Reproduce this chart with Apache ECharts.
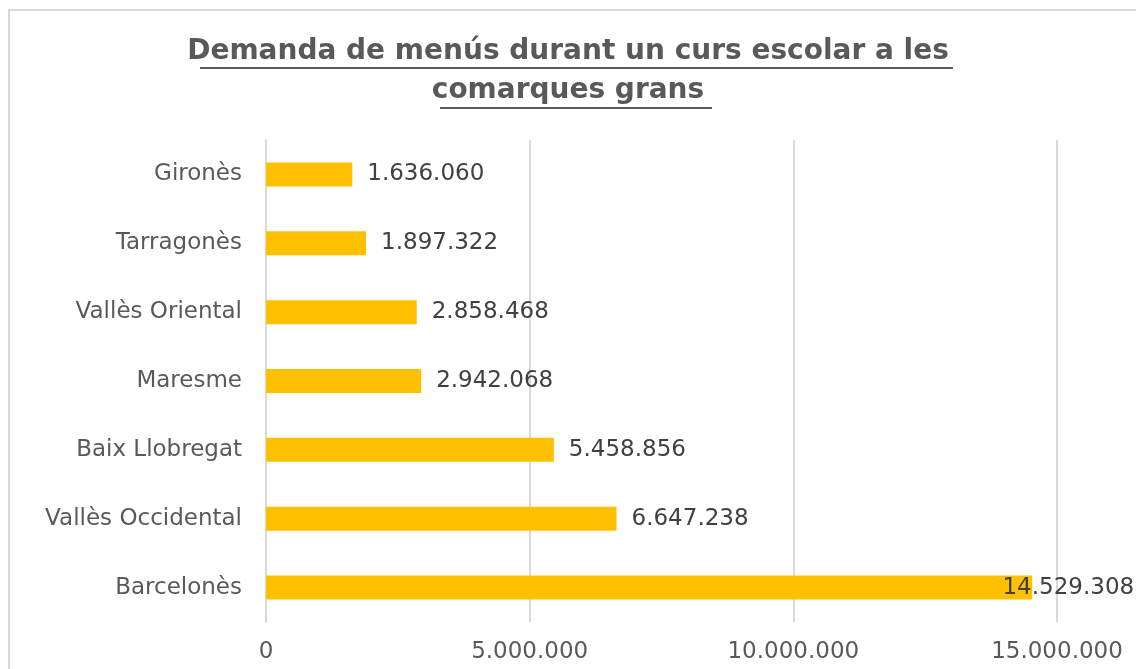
<!DOCTYPE html>
<html>
<head>
<meta charset="utf-8">
<script src="https://cdn.jsdelivr.net/npm/echarts@6/dist/echarts.min.js"></script>
<style>
html,body{margin:0;padding:0;background:#fff;}
#chart{width:1136px;height:669px;}
</style>
</head>
<body>
<div id="chart"></div>
<script>
var categories = ['Gironès', 'Tarragonès', 'Vallès Oriental', 'Maresme', 'Baix Llobregat', 'Vallès Occidental', 'Barcelonès'];
var values = [1636060, 1897322, 2858468, 2942068, 5458856, 6647238, 14529308];
var axisTicks = [0, 5000000, 10000000, 15000000];
var titleLines = ['Demanda de menús durant un curs escolar a les', 'comarques grans'];

function fmt(v) {
  return String(v).replace(/\B(?=(\d{3})+(?!\d))/g, '.');
}

var FONT = '"DejaVu Sans", sans-serif';
var chart = echarts.init(document.getElementById('chart'), null, {renderer: 'canvas'});

var barData = values.map(function (v, i) {
  if (v > 13000000) {
    return {value: v, label: {position: 'insideRight', offset: [117, 0]}};
  }
  return v;
});

chart.setOption({
  animation: false,
  backgroundColor: '#ffffff',
  grid: {left: 266, right: 79, top: 140, bottom: 47, containLabel: false},
  graphic: [
    {type: 'rect', shape: {x: 9, y: 10, width: 1400, height: 1000}, style: {fill: null, stroke: '#d9d9d9', lineWidth: 2}, silent: true},
    {type: 'text', left: 'center', top: 38, style: {text: titleLines[0], font: 'bold 28px ' + FONT, fill: '#595959'}},
    {type: 'text', left: 'center', top: 77, style: {text: titleLines[1], font: 'bold 28px ' + FONT, fill: '#595959'}},
    {type: 'line', shape: {x1: 200, y1: 68, x2: 953, y2: 68}, style: {stroke: '#595959', lineWidth: 2}},
    {type: 'line', shape: {x1: 440, y1: 108, x2: 712, y2: 108}, style: {stroke: '#595959', lineWidth: 2}}
  ],
  xAxis: {
    type: 'value',
    min: axisTicks[0],
    max: axisTicks[axisTicks.length - 1],
    interval: axisTicks[1] - axisTicks[0],
    axisLine: {show: false},
    axisTick: {show: false},
    splitLine: {show: true, lineStyle: {color: '#d9d9d9', width: 2}},
    axisLabel: {
      formatter: function (v) { return fmt(v); },
      color: '#595959', fontSize: 23, fontFamily: FONT, margin: 19
    }
  },
  yAxis: {
    type: 'category',
    data: categories,
    inverse: true,
    axisLine: {show: true, lineStyle: {color: '#d9d9d9', width: 2}},
    axisTick: {show: false},
    axisLabel: {color: '#595959', fontSize: 23, fontFamily: FONT, margin: 24}
  },
  series: [{
    type: 'bar',
    data: barData,
    barWidth: 24,
    itemStyle: {color: '#FFC000'},
    label: {
      show: true,
      position: 'right',
      distance: 15,
      color: '#404040',
      fontSize: 23,
      fontFamily: FONT,
      formatter: function (p) { return fmt(p.value); }
    }
  }]
});
</script>
</body>
</html>
